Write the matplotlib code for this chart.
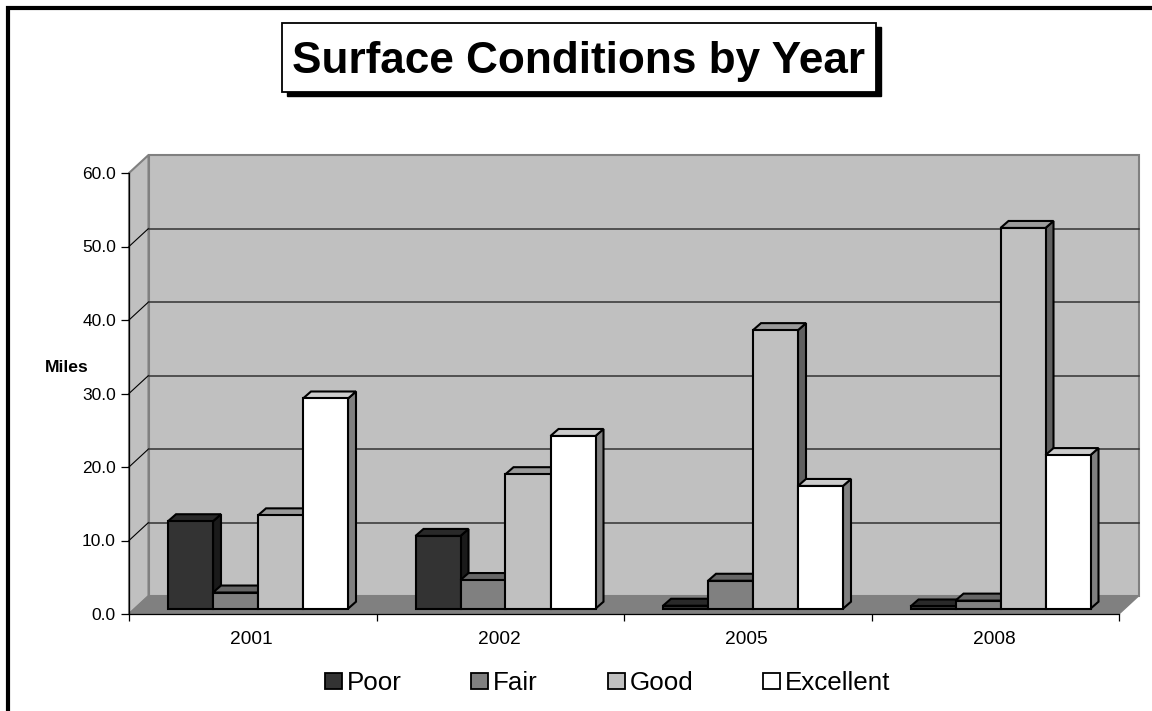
import matplotlib
matplotlib.use("Agg")
import matplotlib.pyplot as plt
from matplotlib.patches import Polygon, Rectangle

plt.rcParams["font.family"] = ["Liberation Sans", "DejaVu Sans"]

years = ["2001", "2002", "2005", "2008"]
poor = [11.9, 9.9, 0.4, 0.3]
fair = [2.2, 3.9, 3.8, 1.1]
good = [12.7, 18.3, 37.9, 51.8]
excellent = [28.6, 23.5, 16.7, 20.9]

series = [poor, fair, good, excellent]
names = ["Poor", "Fair", "Good", "Excellent"]
front_cols = ["#333333", "#808080", "#c0c0c0", "#ffffff"]
top_cols = ["#292929", "#666666", "#9a9a9a", "#cccccc"]
side_cols = ["#1a1a1a", "#404040", "#606060", "#808080"]

W, H = 1152, 711
fig = plt.figure(figsize=(W / 100, H / 100), dpi=100, facecolor="white")

# front plane of the fake 3d box, pixels from the picture
left, right, base, top = 129, 1119, 614, 173
ax = fig.add_axes([left / W, (H - base) / H, (right - left) / W, (base - top) / H])
ax.set_xlim(0, 4)
ax.set_ylim(0, 60)
ax.patch.set_visible(False)

px = 4 / (right - left)
py = 60 / (base - top)
dx, dy = 19.5 * px, 18 * py

# walls and floor
ax.add_patch(Polygon([(dx, dy), (4 + dx, dy), (4 + dx, 60 + dy), (dx, 60 + dy)],
                     fc="#c0c0c0", ec="#808080", lw=1.5, clip_on=False, zorder=1))
ax.add_patch(Polygon([(0, 0), (dx, dy), (dx, 60 + dy), (0, 60)],
                     fc="#c0c0c0", ec="#808080", lw=1.5, clip_on=False, zorder=1))
ax.add_patch(Polygon([(0, 0), (4, 0), (4 + dx, dy), (dx, dy)],
                     fc="#808080", ec="#808080", lw=1, clip_on=False, zorder=1))

for v in range(10, 60, 10):
    ax.plot([0, dx], [v, v + dy], color="black", lw=0.8, clip_on=False, zorder=2)
    ax.plot([dx, 4 + dx], [v + dy, v + dy], color="#333333", lw=1.1, clip_on=False, zorder=2)

# bars, back faces first so the next bar covers them
bar_w = 45 * px
off_x = 39 * px
off_y = 5.3 * py
ddx, ddy = 8 * px, 7 * py
z = 3
for g in range(len(years)):
    for s in range(len(series)):
        x0 = g + off_x + s * bar_w
        x1 = x0 + bar_w
        h = series[s][g]
        y1 = off_y + h
        ax.add_patch(Polygon([(x1, off_y), (x1 + ddx, off_y + ddy), (x1 + ddx, y1 + ddy), (x1, y1)],
                             fc=side_cols[s], ec="black", lw=1.5, clip_on=False, zorder=z))
        ax.add_patch(Polygon([(x0, y1), (x0 + ddx, y1 + ddy), (x1 + ddx, y1 + ddy), (x1, y1)],
                             fc=top_cols[s], ec="black", lw=1.5, clip_on=False, zorder=z))
        ax.bar(x0, h, bar_w, bottom=off_y, align="edge", color=front_cols[s],
               edgecolor="black", lw=1.5, clip_on=False, zorder=z + 0.5)
        z += 1

for sp in ["top", "right"]:
    ax.spines[sp].set_visible(False)
ax.spines["left"].set_linewidth(0.9)
ax.spines["bottom"].set_linewidth(0.9)

ax.set_yticks(range(0, 70, 10))
ax.set_yticklabels(["%.1f" % v for v in range(0, 70, 10)], fontsize=12.5)
ax.set_xticks(range(5))
ax.set_xticklabels([])
ax.set_xticks([i + 0.495 for i in range(4)], minor=True)
ax.set_xticklabels(years, minor=True, fontsize=13.8)
ax.tick_params(axis="x", which="minor", length=0, pad=12.5)
ax.tick_params(axis="x", which="major", length=5, width=0.9)
ax.tick_params(axis="y", length=5.8, width=0.9, pad=3.6)

# overlays in pixel coords for frame, title and legend
ov = fig.add_axes([0, 0, 1, 1], zorder=-1)
ov.set_xlim(0, W)
ov.set_ylim(H, 0)
ov.axis("off")
ov2 = fig.add_axes([0, 0, 1, 1], zorder=5)
ov2.set_xlim(0, W)
ov2.set_ylim(H, 0)
ov2.axis("off")

# frame runs off the right and bottom of the picture
ov.add_patch(Rectangle((8, 8), 1300, 900, fc="white", ec="black", lw=3))

ov2.add_patch(Rectangle((287, 27), 594, 69, fc="black", ec="black", lw=1))
ov2.add_patch(Rectangle((282, 23), 594, 69, fc="white", ec="black", lw=1.3))
ov2.text(579, 73, "Surface Conditions by Year", fontsize=31.8, fontweight="bold",
         ha="center", va="baseline")
ov2.text(67, 372, "Miles", fontsize=12.6, fontweight="bold", ha="center", va="baseline")

leg_x = [325, 471, 608, 763]
for i in range(4):
    ov2.add_patch(Rectangle((leg_x[i], 673), 16.5, 15.5, fc=front_cols[i], ec="black", lw=1.3))
    ov2.text(leg_x[i] + 22, 689.5, names[i], fontsize=18.7, ha="left", va="baseline")

fig.savefig("out.png", dpi=100)
